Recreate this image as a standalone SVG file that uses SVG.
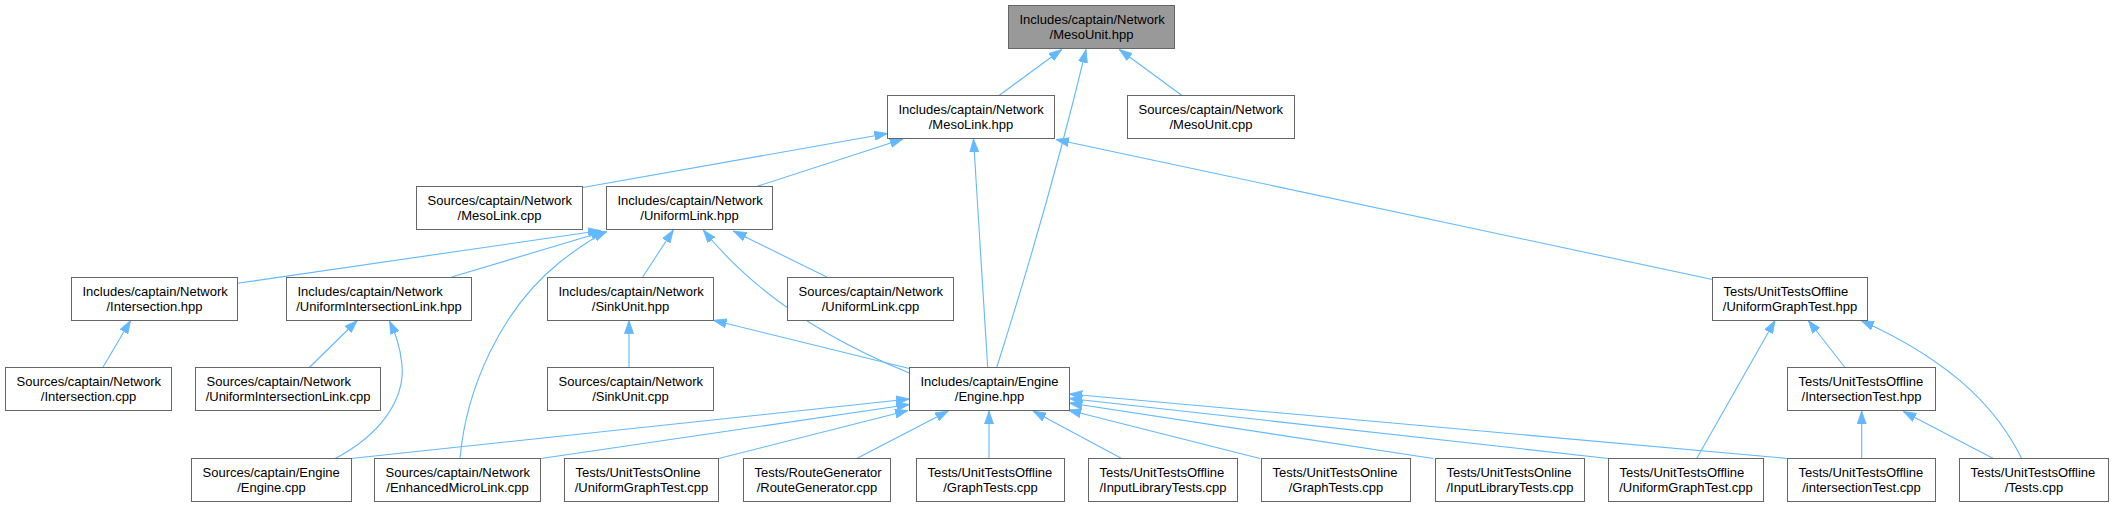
<svg xmlns="http://www.w3.org/2000/svg" width="2113" height="507" viewBox="0 0 2113 507">
<style>
.n rect{fill:#ffffff;stroke:#666666;stroke-width:1}
.n.root rect{fill:#999999}
.n text{font-family:"Liberation Sans",Arial,sans-serif;font-size:13px;fill:#000000}
.n text.c{text-anchor:middle}
.e path{fill:none;stroke:#63b8ff;stroke-width:1.1;marker-end:url(#ah)}
</style>
<defs>
<marker id="ah" markerUnits="userSpaceOnUse" markerWidth="14" markerHeight="10" viewBox="0 0 14 10" refX="13" refY="5" orient="auto">
<path d="M0,0.5 L13,5 L0,9.5 z" fill="#63b8ff" stroke="#63b8ff" stroke-width="0.8"/>
</marker>
</defs>
<rect width="2113" height="507" fill="#ffffff"/>
<g id="edges" class="e">
<path d="M998.3,96 L1061.7,49.5"/>
<path d="M996.7,367.5 Q1050,200 1086,49.5"/>
<path d="M1182.7,96 L1119.3,49.5"/>
<path d="M582.7,187.5 L887.5,133.5"/>
<path d="M755,187 L903,139"/>
<path d="M987.7,367.5 L973.5,139"/>
<path d="M1712.5,279.5 L1056,139.5"/>
<path d="M237.3,283.3 L601,230.5"/>
<path d="M451.7,277 L604,231.5"/>
<path d="M460,458.5 C466,390 500,310 560,262 C578,248 592,238 607,231.5"/>
<path d="M642.7,277 L673.3,230"/>
<path d="M909.3,373 C840,345 760,300 703.3,230"/>
<path d="M826.7,277 L733.3,231"/>
<path d="M102.8,367.5 L130.5,320.5"/>
<path d="M309.3,367.5 L357.3,320.5"/>
<path d="M335,458.5 C380,435 405,400 402,365 C400,345 395,333 389.5,321"/>
<path d="M629,367.5 L629,320.5"/>
<path d="M909.3,368.5 L713.5,320.3"/>
<path d="M351,458.5 L909.3,399"/>
<path d="M541,458.5 L909.3,404.5"/>
<path d="M718.6,458.5 L908,410.5"/>
<path d="M856.7,458.5 L948.3,411"/>
<path d="M989,458.5 L989,411"/>
<path d="M1121.7,458.5 L1033,411"/>
<path d="M1260,458.5 L1068,410"/>
<path d="M1433.3,458.5 L1069.3,403"/>
<path d="M1608.6,458.5 L1069.3,398.5"/>
<path d="M1787.6,458.5 L1069.3,394"/>
<path d="M1696.7,458.5 L1775,320.5"/>
<path d="M1845,367.5 L1808.3,320.5"/>
<path d="M2021.7,458.5 C2000,415 1960,365 1861,320.5"/>
<path d="M1861.7,458.5 L1861.7,411"/>
<path d="M1993.3,458.5 L1903.3,411.5"/>
</g>
<g id="n_mesounit_hpp" class="n root"><rect x="1008.5" y="5.5" width="166" height="43"/><text x="1019.5" y="24">Includes/captain/Network</text><text class="c" x="1091.5" y="39">/MesoUnit.hpp</text></g>
<g id="n_mesolink_hpp" class="n"><rect x="887.5" y="95.5" width="167" height="43"/><text x="898.5" y="114">Includes/captain/Network</text><text class="c" x="971" y="129">/MesoLink.hpp</text></g>
<g id="n_mesounit_cpp" class="n"><rect x="1127.5" y="95.5" width="167" height="43"/><text x="1138.5" y="114">Sources/captain/Network</text><text class="c" x="1211" y="129">/MesoUnit.cpp</text></g>
<g id="n_mesolink_cpp" class="n"><rect x="416.5" y="186.5" width="166" height="43"/><text x="427.5" y="205">Sources/captain/Network</text><text class="c" x="499.5" y="220">/MesoLink.cpp</text></g>
<g id="n_uniformlink_hpp" class="n"><rect x="606.5" y="186.5" width="166" height="43"/><text x="617.5" y="205">Includes/captain/Network</text><text class="c" x="689.5" y="220">/UniformLink.hpp</text></g>
<g id="n_intersection_hpp" class="n"><rect x="71.5" y="277.5" width="166" height="43"/><text x="82.5" y="296">Includes/captain/Network</text><text class="c" x="154.5" y="311">/Intersection.hpp</text></g>
<g id="n_uniformintersectionlink_hpp" class="n"><rect x="286.5" y="277.5" width="185" height="43"/><text x="297.5" y="296">Includes/captain/Network</text><text class="c" x="379" y="311">/UniformIntersectionLink.hpp</text></g>
<g id="n_sinkunit_hpp" class="n"><rect x="547.5" y="277.5" width="166" height="43"/><text x="558.5" y="296">Includes/captain/Network</text><text class="c" x="630.5" y="311">/SinkUnit.hpp</text></g>
<g id="n_uniformlink_cpp" class="n"><rect x="787.5" y="277.5" width="166" height="43"/><text x="798.5" y="296">Sources/captain/Network</text><text class="c" x="870.5" y="311">/UniformLink.cpp</text></g>
<g id="n_uniformgraphtest_hpp" class="n"><rect x="1712.5" y="277.5" width="155" height="43"/><text x="1723.5" y="296">Tests/UnitTestsOffline</text><text class="c" x="1790" y="311">/UniformGraphTest.hpp</text></g>
<g id="n_intersection_cpp" class="n"><rect x="5.5" y="367.5" width="166" height="43"/><text x="16.5" y="386">Sources/captain/Network</text><text class="c" x="88.5" y="401">/Intersection.cpp</text></g>
<g id="n_uniformintersectionlink_cpp" class="n"><rect x="195.5" y="367.5" width="185" height="43"/><text x="206.5" y="386">Sources/captain/Network</text><text class="c" x="288" y="401">/UniformIntersectionLink.cpp</text></g>
<g id="n_sinkunit_cpp" class="n"><rect x="547.5" y="367.5" width="166" height="43"/><text x="558.5" y="386">Sources/captain/Network</text><text class="c" x="630.5" y="401">/SinkUnit.cpp</text></g>
<g id="n_engine_hpp" class="n"><rect x="909.5" y="367.5" width="160" height="43"/><text x="920.5" y="386">Includes/captain/Engine</text><text class="c" x="989.5" y="401">/Engine.hpp</text></g>
<g id="n_intersectiontest_hpp" class="n"><rect x="1787.5" y="367.5" width="148" height="43"/><text x="1798.5" y="386">Tests/UnitTestsOffline</text><text class="c" x="1861.5" y="401">/IntersectionTest.hpp</text></g>
<g id="n_engine_cpp" class="n"><rect x="191.5" y="458.5" width="160" height="43"/><text x="202.5" y="477">Sources/captain/Engine</text><text class="c" x="271.5" y="492">/Engine.cpp</text></g>
<g id="n_enhancedmicrolink_cpp" class="n"><rect x="374.5" y="458.5" width="166" height="43"/><text x="385.5" y="477">Sources/captain/Network</text><text class="c" x="457.5" y="492">/EnhancedMicroLink.cpp</text></g>
<g id="n_online_uniformgraphtest_cpp" class="n"><rect x="564.5" y="458.5" width="154" height="43"/><text x="575.5" y="477">Tests/UnitTestsOnline</text><text class="c" x="641.5" y="492">/UniformGraphTest.cpp</text></g>
<g id="n_routegenerator_cpp" class="n"><rect x="743.5" y="458.5" width="147" height="43"/><text x="754.5" y="477">Tests/RouteGenerator</text><text class="c" x="817" y="492">/RouteGenerator.cpp</text></g>
<g id="n_offline_graphtests_cpp" class="n"><rect x="916.5" y="458.5" width="148" height="43"/><text x="927.5" y="477">Tests/UnitTestsOffline</text><text class="c" x="990.5" y="492">/GraphTests.cpp</text></g>
<g id="n_offline_inputlibrarytests_cpp" class="n"><rect x="1088.5" y="458.5" width="149" height="43"/><text x="1099.5" y="477">Tests/UnitTestsOffline</text><text class="c" x="1163" y="492">/InputLibraryTests.cpp</text></g>
<g id="n_online_graphtests_cpp" class="n"><rect x="1261.5" y="458.5" width="149" height="43"/><text x="1272.5" y="477">Tests/UnitTestsOnline</text><text class="c" x="1336" y="492">/GraphTests.cpp</text></g>
<g id="n_online_inputlibrarytests_cpp" class="n"><rect x="1435.5" y="458.5" width="149" height="43"/><text x="1446.5" y="477">Tests/UnitTestsOnline</text><text class="c" x="1510" y="492">/InputLibraryTests.cpp</text></g>
<g id="n_offline_uniformgraphtest_cpp" class="n"><rect x="1608.5" y="458.5" width="155" height="43"/><text x="1619.5" y="477">Tests/UnitTestsOffline</text><text class="c" x="1686" y="492">/UniformGraphTest.cpp</text></g>
<g id="n_intersectiontest_cpp" class="n"><rect x="1787.5" y="458.5" width="148" height="43"/><text x="1798.5" y="477">Tests/UnitTestsOffline</text><text class="c" x="1861.5" y="492">/intersectionTest.cpp</text></g>
<g id="n_tests_cpp" class="n"><rect x="1959.5" y="458.5" width="149" height="43"/><text x="1970.5" y="477">Tests/UnitTestsOffline</text><text class="c" x="2034" y="492">/Tests.cpp</text></g>
</svg>
